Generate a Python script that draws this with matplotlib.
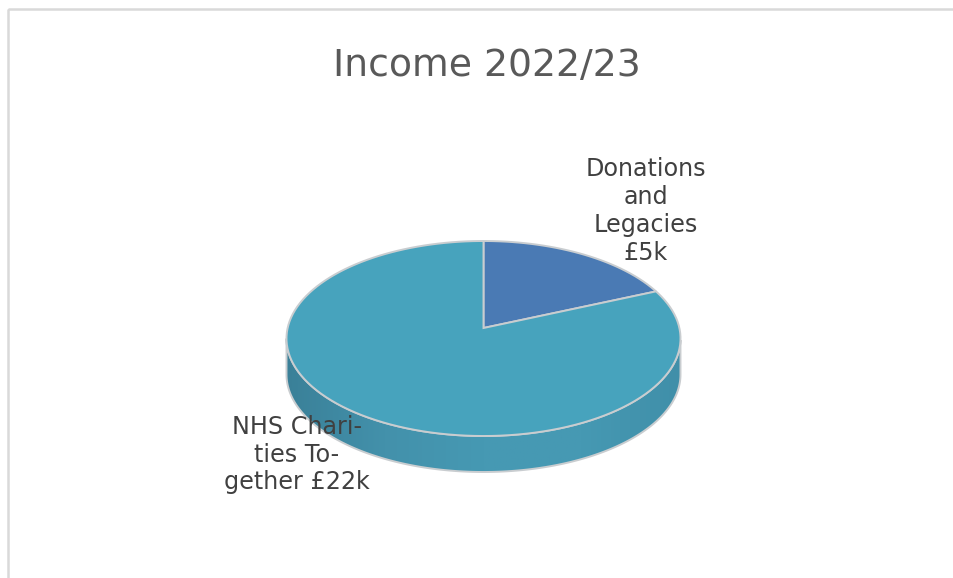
import numpy as np
import matplotlib
matplotlib.use('Agg')
import matplotlib.pyplot as plt
from matplotlib.colors import LinearSegmentedColormap
from matplotlib.patches import PathPatch, Rectangle
from matplotlib.path import Path
from matplotlib.transforms import Transform

# Income in GBP thousands
categories = ['Donations and Legacies', 'NHS Charities Together']
values = [5, 22]
title = 'Income 2022/23'
label_donations = 'Donations\nand\nLegacies\n£5k'
label_nhs = 'NHS Chari-\nties To-\ngether £22k'

W, H = 954, 578
CX, CY = 483.5, 338.5   # middle of the ellipse, pixels
RX, RY = 197.0, 97.5
TIP = 10.5              # the centre of the pie sits this far above the ellipse middle
DEPTH = 36              # thickness of the disc


# perspective tilt: unit circle to the ellipse seen on the page
class Tilt(Transform):
    input_dims = 2
    output_dims = 2

    def __init__(self, scale=1.0):
        super().__init__()
        self.scale = scale

    def transform_non_affine(self, xy):
        xy = np.asarray(xy, dtype=float) / self.scale
        c = TIP / RY
        w = 1 + c * xy[:, 1]
        k = RX * np.sqrt(1 - c * c)
        px = CX + k * xy[:, 0] / w
        py = CY - (RY * xy[:, 1] + TIP) / w
        return np.column_stack([px, py])

    def transform_path_non_affine(self, path):
        polys = path.to_polygons(closed_only=False)
        return Path(self.transform_non_affine(polys[0]))


fig = plt.figure(figsize=(W / 100, H / 100), dpi=100, facecolor='white')
ax = fig.add_axes([0, 0, 1, 1])

# pie drawn large so the curves flatten finely, then tilted
SCALE = 400
wedges, _ = ax.pie(values, startangle=90, counterclock=False, radius=SCALE,
                   colors=['#4a7ab4', '#47a3bd'],
                   wedgeprops=dict(edgecolor='#c9cdd0', linewidth=1.4))
tilt = Tilt(SCALE)
for w in wedges:
    w.set_transform(tilt + ax.transData)
    w.set_zorder(3)

# side wall with left-to-right shading
t = np.linspace(np.pi / 2, 3 * np.pi / 2, 200)
ex = CX + RX * np.sin(t)
ey = CY - RY * np.cos(t)
wall = np.column_stack([np.r_[ex, ex[::-1]], np.r_[ey + DEPTH, ey[::-1]]])
wall_cmap = LinearSegmentedColormap.from_list(
    'wall', ['#3a8098', '#4391ab', '#4699b3', '#4699b3', '#408fa9'])
clip = PathPatch(Path(wall, closed=True), facecolor='none', edgecolor='#c9cdd0',
                 linewidth=1.4, zorder=2)
ax.add_patch(clip)
img = ax.imshow(np.linspace(1, 0, 256)[None, :], cmap=wall_cmap, aspect='auto',
                extent=[CX + RX, CX - RX, CY + RY + DEPTH, CY - RY], zorder=1)
img.set_clip_path(clip)

# chart frame, runs off the right and bottom of the picture
ax.add_patch(Rectangle((8, 9), W, H, facecolor='none', edgecolor='#d9d9d9',
                       linewidth=1.8, zorder=0))

ax.set_aspect('auto')
ax.set_xlim(0, W)
ax.set_ylim(H, 0)
ax.axis('off')

ax.text(486.5, 66.5, title, ha='center', va='center', fontsize=27.2, color='#595959',
        family='DejaVu Sans', zorder=5)
ax.text(646, 211, label_donations, ha='center', va='center', fontsize=17.2, color='#404040',
        linespacing=1.22, zorder=5)
ax.text(297, 454.5, label_nhs, ha='center', va='center', fontsize=17.2, color='#404040',
        linespacing=1.2, zorder=5)

fig.savefig('out.png', dpi=100)
